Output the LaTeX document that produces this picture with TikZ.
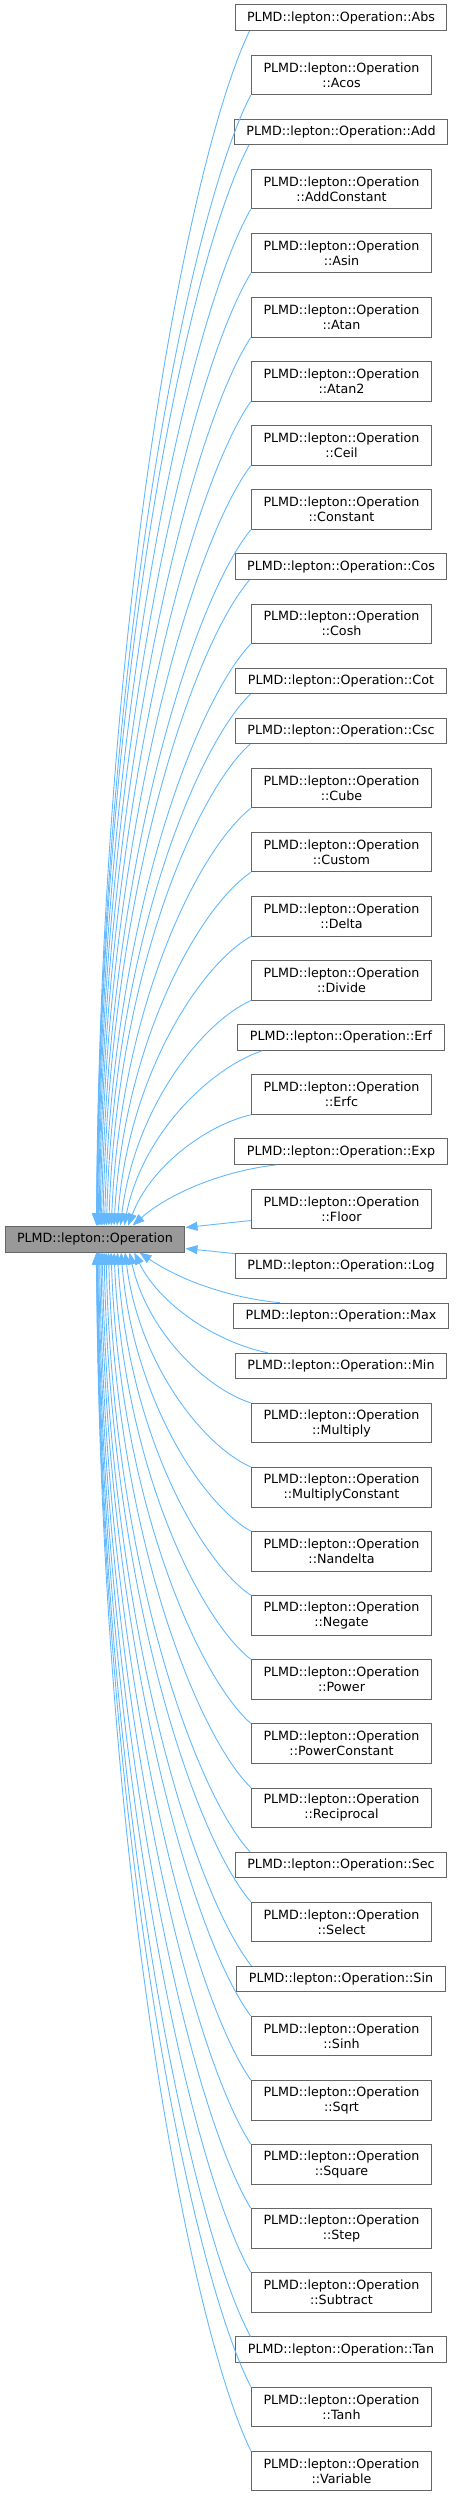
\documentclass[tikz,border=0pt]{standalone}
\usepackage{fontspec}
\setmainfont{DejaVu Sans}
\usetikzlibrary{arrows.meta,calc}
\definecolor{edgeblue}{HTML}{63B8FF}
\definecolor{nodeborder}{HTML}{666666}
\definecolor{basefill}{HTML}{999999}
\tikzset{
  cls/.style={draw=nodeborder, line width=1pt, fill=white, rectangle, inner xsep=12pt, inner ysep=0pt, align=center, font=\fontsize{12.7}{15}\selectfont, text=black},
  single/.style={cls, minimum height=25.5pt},
  double/.style={cls, minimum height=39.5pt, minimum width=180.5pt},
  basecls/.style={cls, fill=basefill, minimum height=26pt},
  inh/.style={draw=edgeblue, line width=0.9pt, -{Triangle[length=12pt,width=9pt]}}
}
\newcommand\UpEdge[3]{\draw[inh] let \p1=($(#1.south west)+(#2,0)$), \p2=($(base.north west)+(#3-5,0)$), \n1={\y1-\y2}, \n2={\x1-\x2}, \n3={0.5*\n2*60/(abs(\n1)+60)} in (\p1) .. controls ($(\p1)+(-0.38*\n2,-0.1*\n1)$) and ($(\p2)+(\n3,0.52*\n1)$) .. (\p2);}
\newcommand\DnEdge[3]{\draw[inh] let \p1=($(#1.north west)+(#2,0)$), \p2=($(base.south west)+(#3-5,0)$), \n1={\y2-\y1}, \n2={\x1-\x2}, \n3={0.5*\n2*60/(abs(\n1)+60)} in (\p1) .. controls ($(\p1)+(-0.38*\n2,0.1*\n1)$) and ($(\p2)+(\n3,-0.52*\n1)$) .. (\p2);}
\begin{document}
\begin{tikzpicture}[x=1pt,y=1pt]
\useasboundingbox (0,0) rectangle (455,-2497);
\node[basecls] (base) at (95,-1239) {PLMD::lepton::Operation};
\node[single] (abs) at (341,-17.75) {PLMD::lepton::Operation::Abs};
\node[double] (acos) at (341.5,-74.85) {PLMD::lepton::Operation\\::Acos};
\node[single] (add) at (341,-131.95) {PLMD::lepton::Operation::Add};
\node[double] (addconstant) at (341.5,-189.05) {PLMD::lepton::Operation\\::AddConstant};
\node[double] (asin) at (341.5,-253.15) {PLMD::lepton::Operation\\::Asin};
\node[double] (atan) at (341.5,-317.25) {PLMD::lepton::Operation\\::Atan};
\node[double] (atantwo) at (341.5,-381.35) {PLMD::lepton::Operation\\::Atan2};
\node[double] (ceil) at (341.5,-445.45) {PLMD::lepton::Operation\\::Ceil};
\node[double] (constant) at (341.5,-509.55) {PLMD::lepton::Operation\\::Constant};
\node[single] (cos) at (341,-566.65) {PLMD::lepton::Operation::Cos};
\node[double] (cosh) at (341.5,-623.75) {PLMD::lepton::Operation\\::Cosh};
\node[single] (cot) at (341,-680.85) {PLMD::lepton::Operation::Cot};
\node[single] (csc) at (341,-730.95) {PLMD::lepton::Operation::Csc};
\node[double] (cube) at (341.5,-788.05) {PLMD::lepton::Operation\\::Cube};
\node[double] (custom) at (341.5,-852.15) {PLMD::lepton::Operation\\::Custom};
\node[double] (delta) at (341.5,-916.25) {PLMD::lepton::Operation\\::Delta};
\node[double] (divide) at (341.5,-980.35) {PLMD::lepton::Operation\\::Divide};
\node[single] (erf) at (341,-1037.45) {PLMD::lepton::Operation::Erf};
\node[double] (erfc) at (341.5,-1094.55) {PLMD::lepton::Operation\\::Erfc};
\node[single] (exp) at (341,-1151.65) {PLMD::lepton::Operation::Exp};
\node[double] (floor) at (341.5,-1208.75) {PLMD::lepton::Operation\\::Floor};
\node[single] (log) at (341,-1265.85) {PLMD::lepton::Operation::Log};
\node[single] (max) at (341,-1315.95) {PLMD::lepton::Operation::Max};
\node[single] (min) at (341,-1366.05) {PLMD::lepton::Operation::Min};
\node[double] (multiply) at (341.5,-1423.15) {PLMD::lepton::Operation\\::Multiply};
\node[double] (multiplyconstant) at (341.5,-1487.25) {PLMD::lepton::Operation\\::MultiplyConstant};
\node[double] (nandelta) at (341.5,-1551.35) {PLMD::lepton::Operation\\::Nandelta};
\node[double] (negate) at (341.5,-1615.45) {PLMD::lepton::Operation\\::Negate};
\node[double] (power) at (341.5,-1679.55) {PLMD::lepton::Operation\\::Power};
\node[double] (powerconstant) at (341.5,-1743.65) {PLMD::lepton::Operation\\::PowerConstant};
\node[double] (reciprocal) at (341.5,-1807.75) {PLMD::lepton::Operation\\::Reciprocal};
\node[single] (sec) at (341,-1864.85) {PLMD::lepton::Operation::Sec};
\node[double] (select) at (341.5,-1921.95) {PLMD::lepton::Operation\\::Select};
\node[single] (sin) at (341,-1979.05) {PLMD::lepton::Operation::Sin};
\node[double] (sinh) at (341.5,-2036.15) {PLMD::lepton::Operation\\::Sinh};
\node[double] (sqrt) at (341.5,-2100.25) {PLMD::lepton::Operation\\::Sqrt};
\node[double] (square) at (341.5,-2164.35) {PLMD::lepton::Operation\\::Square};
\node[double] (stepcls) at (341.5,-2228.45) {PLMD::lepton::Operation\\::Step};
\node[double] (subtract) at (341.5,-2292.55) {PLMD::lepton::Operation\\::Subtract};
\node[single] (tan) at (341,-2349.65) {PLMD::lepton::Operation::Tan};
\node[double] (tanh) at (341.5,-2406.75) {PLMD::lepton::Operation\\::Tanh};
\node[double] (variable) at (341.5,-2470.85) {PLMD::lepton::Operation\\::Variable};
% edges from upper children
\UpEdge{abs}{15}{97.0}
\UpEdge{acos}{0}{97.1}
\UpEdge{add}{15}{97.3}
\UpEdge{addconstant}{0}{97.6}
\UpEdge{asin}{0}{98.1}
\UpEdge{atan}{0}{98.8}
\UpEdge{atantwo}{0}{99.6}
\UpEdge{ceil}{0}{100.6}
\UpEdge{constant}{0}{101.9}
\UpEdge{cos}{15}{103.4}
\UpEdge{cosh}{0}{105.1}
\UpEdge{cot}{15}{107.0}
\UpEdge{csc}{15}{109.3}
\UpEdge{cube}{0}{111.8}
\UpEdge{custom}{0}{114.5}
\UpEdge{delta}{0}{117.6}
\UpEdge{divide}{0}{121.0}
\UpEdge{erf}{25}{124.7}
\UpEdge{erfc}{0}{128.7}
\UpEdge{exp}{42}{133}
% side edges
\draw[inh] ($(floor.south west)+(0,8.5)$) -- ($(base.north east)+(0,-2)$);
\draw[inh] ($(log.north west)+(0,-1)$) -- ($(base.south east)+(0,4)$);
% edges from lower children
\DnEdge{max}{47}{140}
\DnEdge{min}{33}{134.8}
\DnEdge{multiply}{0}{130.0}
\DnEdge{multiplyconstant}{0}{125.6}
\DnEdge{nandelta}{0}{121.6}
\DnEdge{negate}{0}{117.9}
\DnEdge{power}{0}{114.6}
\DnEdge{powerconstant}{0}{111.6}
\DnEdge{reciprocal}{0}{109.0}
\DnEdge{sec}{15}{106.6}
\DnEdge{select}{0}{104.6}
\DnEdge{sin}{15}{102.8}
\DnEdge{sinh}{0}{101.4}
\DnEdge{sqrt}{0}{100.1}
\DnEdge{square}{0}{99.1}
\DnEdge{stepcls}{0}{98.3}
\DnEdge{subtract}{0}{97.8}
\DnEdge{tan}{15}{97.4}
\DnEdge{tanh}{0}{97.1}
\DnEdge{variable}{0}{97.0}
\end{tikzpicture}
\end{document}
